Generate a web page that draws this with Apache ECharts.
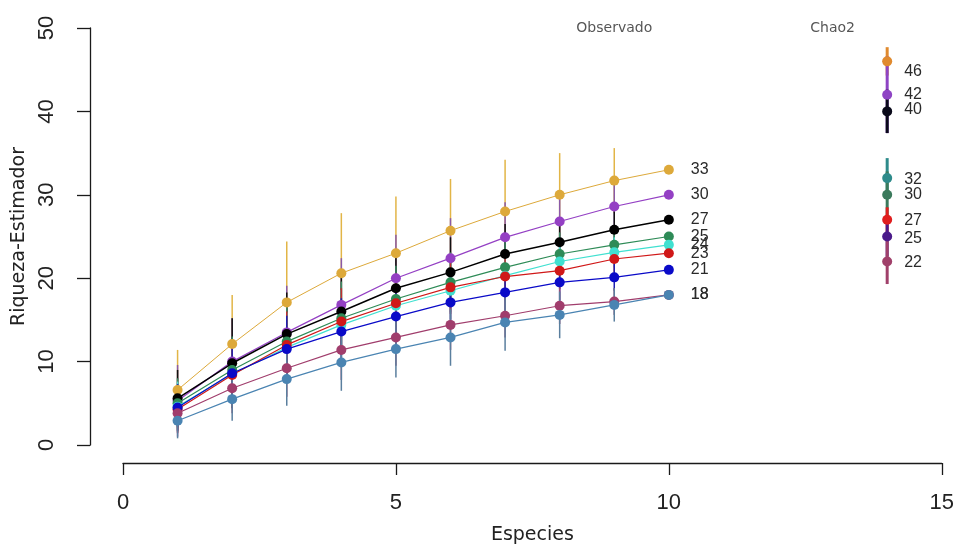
<!DOCTYPE html>
<html>
<head>
<meta charset="utf-8">
<script src="https://cdn.jsdelivr.net/npm/echarts@6/dist/echarts.min.js"></script>
<style>html,body{margin:0;padding:0;background:#fff}#chart{width:957px;height:550px}</style>
</head>
<body>
<div id="chart"></div>
<script>
// ---- data ----
var sampleX = [1, 2, 3, 4, 5, 6, 7, 8, 9, 10];
var goldMean      = [6.6, 12.1, 17.1, 20.6, 23.0, 25.7, 28.0, 30.0, 31.7, 33];
var goldSd        = [4.8, 5.9, 7.3, 7.2, 6.8, 6.2, 6.2, 5.0, 3.9, 0];
var purpleMean    = [5.3, 10.0, 13.5, 16.8, 20.0, 22.4, 24.9, 26.8, 28.6, 30];
var purpleSd      = [4.3, 5.2, 5.6, 5.6, 5.2, 4.8, 4.2, 3.6, 2.6, 0];
var blackMean     = [5.6, 9.8, 13.3, 16.0, 18.8, 20.7, 22.9, 24.3, 25.8, 27];
var blackSd       = [3.4, 5.4, 5.0, 5.0, 4.6, 4.2, 3.6, 3.0, 2.2, 0];
var seagreenMean  = [5.0, 9.0, 12.4, 15.2, 17.5, 19.5, 21.3, 22.9, 24.0, 25];
var seagreenSd    = [3.0, 4.0, 4.4, 4.4, 4.0, 3.6, 3.2, 2.6, 2.0, 0];
var turqMean      = [4.6, 8.5, 11.7, 14.4, 16.7, 18.5, 20.3, 22.0, 23.1, 24];
var turqSd        = [3.0, 3.8, 4.2, 4.2, 3.8, 3.4, 3.0, 2.4, 1.8, 0];
var redMean       = [4.3, 8.4, 12.0, 14.8, 17.0, 18.9, 20.2, 20.9, 22.3, 23];
var redSd         = [2.8, 3.6, 4.0, 4.0, 3.6, 3.2, 2.8, 2.2, 1.6, 0];
var blueMean      = [4.5, 8.6, 11.5, 13.6, 15.4, 17.1, 18.3, 19.5, 20.1, 21];
var blueSd        = [2.8, 3.6, 4.0, 4.0, 3.6, 3.2, 2.8, 2.2, 1.6, 0];
var maroonMean    = [3.8, 6.8, 9.2, 11.4, 12.9, 14.4, 15.5, 16.7, 17.2, 18];
var maroonSd      = [2.4, 3.0, 3.4, 3.6, 3.4, 3.0, 2.6, 2.2, 1.6, 0];
var steelMean     = [2.9, 5.5, 7.9, 9.9, 11.5, 12.9, 14.7, 15.6, 16.8, 18];
var steelSd       = [2.1, 2.6, 3.2, 3.4, 3.4, 3.4, 3.4, 2.8, 2.0, 0];

var chaoX      = 14;
var chaoValues = [46, 42, 40, 32, 30, 27, 25, 22];
var chaoSd     = [1.7, 4.6, 2.6, 2.4, 2.8, 1.5, 2.4, 2.7];

var annotTexts = ['Observado', 'Chao2'];
var annotX     = [9, 13];
var annotY     = [50, 50];

var xTicks = [0, 5, 10, 15];
var yTicks = [0, 10, 20, 30, 40, 50];

// ---- styles ----
var obsSeries = [
  {mean: goldMean, sd: goldSd, color: '#DDA93A', bar: '#E2B547', w: 1},
  {mean: purpleMean, sd: purpleSd, color: '#9440C4', bar: '#8A5AA8', w: 1.2},
  {mean: blackMean, sd: blackSd, color: '#000000', bar: '#111111', w: 1.5},
  {mean: seagreenMean, sd: seagreenSd, color: '#2E8B57', bar: '#3C8A62', w: 1.2},
  {mean: turqMean, sd: turqSd, color: '#40E0D0', bar: '#50D8D0', w: 1.2},
  {mean: redMean, sd: redSd, color: '#D01818', bar: '#C03030', w: 1.2},
  {mean: blueMean, sd: blueSd, color: '#0A0AC8', bar: '#2020B0', w: 1.2},
  {mean: maroonMean, sd: maroonSd, color: '#A03D6C', bar: '#9A4A74', w: 1.2},
  {mean: steelMean, sd: steelSd, color: '#4A84B2', bar: '#5A7F9E', w: 1.2}
];
var chaoColors = ['#E08A2E', '#8E44C4', '#0A0A1A', '#2E8B8B', '#3B7A5C', '#E01E1E', '#4B1A8A', '#A0406A'];
var chaoLabelOffsets = [[0, 10], [0, 0], [0, -2], [0, 1], [0, 0], [0, 1], [0, 2], [0, 1]];

var series = [];

function errRender(width) {
  return function (params, api) {
    var x = api.value(0), lo = api.value(1), hi = api.value(2);
    var p1 = api.coord([x, lo]);
    var p2 = api.coord([x, hi]);
    return {
      type: 'line',
      shape: {x1: p1[0], y1: p1[1], x2: p2[0], y2: p2[1]},
      style: {stroke: api.visual('color'), lineWidth: width}
    };
  };
}

obsSeries.forEach(function (s, k) {
  var err = [];
  var pts = [];
  for (var i = 0; i < sampleX.length; i++) {
    if (s.sd[i] > 0) err.push([sampleX[i], s.mean[i] - s.sd[i], s.mean[i] + s.sd[i]]);
    var item = {value: [sampleX[i], s.mean[i]]};
    if (i === sampleX.length - 1) {
      item.label = {show: true, position: 'right', distance: 17, formatter: String(s.mean[i]),
        color: '#2a2a2a', fontSize: 16, fontFamily: 'Liberation Sans, Arial, sans-serif'};
    }
    pts.push(item);
  }
  series.push({
    type: 'custom', renderItem: errRender(1.5), data: err, z: 1 + k * 0.01,
    itemStyle: {color: s.bar}, encode: {x: 0, y: [1, 2]}, silent: true
  });
  series.push({
    type: 'line', data: pts, symbol: 'circle', symbolSize: 10, z: 3 + k * 0.01,
    lineStyle: {color: s.color, width: s.w}, itemStyle: {color: s.color, opacity: 1},
    label: {show: false}
  });
});

// Chao2
var chaoErr = [], chaoPts = [];
for (var j = 0; j < chaoValues.length; j++) {
  chaoErr.push({value: [chaoX, chaoValues[j] - chaoSd[j], chaoValues[j] + chaoSd[j]], itemStyle: {color: chaoColors[j]}});
  chaoPts.push({
    value: [chaoX, chaoValues[j]], itemStyle: {color: chaoColors[j], opacity: 1},
    label: {show: true, position: 'right', distance: 12, offset: chaoLabelOffsets[j], formatter: String(chaoValues[j]),
      color: '#2a2a2a', fontSize: 16, fontFamily: 'Liberation Sans, Arial, sans-serif'}
  });
}
series.push({type: 'custom', renderItem: errRender(3), data: chaoErr, z: 2, encode: {x: 0, y: [1, 2]}, silent: true});
series.push({type: 'scatter', data: chaoPts, symbol: 'circle', symbolSize: 10, z: 4, itemStyle: {opacity: 1}});

// annotations
var annot = [];
for (var a = 0; a < annotTexts.length; a++) {
  annot.push({value: [annotX[a], annotY[a]], name: annotTexts[a]});
}
series.push({
  type: 'scatter', data: annot, symbolSize: 0, z: 5, silent: true,
  label: {show: true, position: 'inside', formatter: '{b}', color: '#2a2a2a', fontSize: 14,
    fontFamily: 'DejaVu Sans, sans-serif'}
});

var axisFont = 'Liberation Sans, Arial, sans-serif';
var option = {
  animation: false,
  backgroundColor: '#ffffff',
  grid: {left: 123, right: 15, top: 28, bottom: 103, containLabel: false},
  xAxis: {
    type: 'value', min: xTicks[0], max: xTicks[xTicks.length - 1], interval: 5, offset: 18,
    axisLine: {show: true, onZero: false, lineStyle: {color: '#1a1a1a', width: 1.3}},
    axisTick: {show: true, length: 12, lineStyle: {color: '#1a1a1a', width: 1.3}},
    splitLine: {show: false},
    axisLabel: {fontSize: 22, color: '#222', margin: 29, fontFamily: axisFont},
    name: 'Especies', nameLocation: 'middle', nameGap: 63,
    nameTextStyle: {fontSize: 19, color: '#222', fontFamily: 'DejaVu Sans, sans-serif'}
  },
  yAxis: {
    type: 'value', min: yTicks[0], max: yTicks[yTicks.length - 1], interval: 10, offset: 33,
    axisLine: {show: true, onZero: false, lineStyle: {color: '#1a1a1a', width: 1.3}},
    axisTick: {show: true, length: 13, lineStyle: {color: '#1a1a1a', width: 1.3}},
    splitLine: {show: false},
    axisLabel: {fontSize: 22, color: '#222', margin: 32, rotate: 90, fontFamily: axisFont},
    name: 'Riqueza-Estimador', nameLocation: 'middle', nameGap: 59, nameRotate: 90,
    nameTextStyle: {fontSize: 19, color: '#222', fontFamily: 'DejaVu Sans, sans-serif'}
  },
  series: series
};
var chart = echarts.init(document.getElementById('chart'), null, {renderer: 'canvas'});
chart.setOption(option);
</script>
</body>
</html>
